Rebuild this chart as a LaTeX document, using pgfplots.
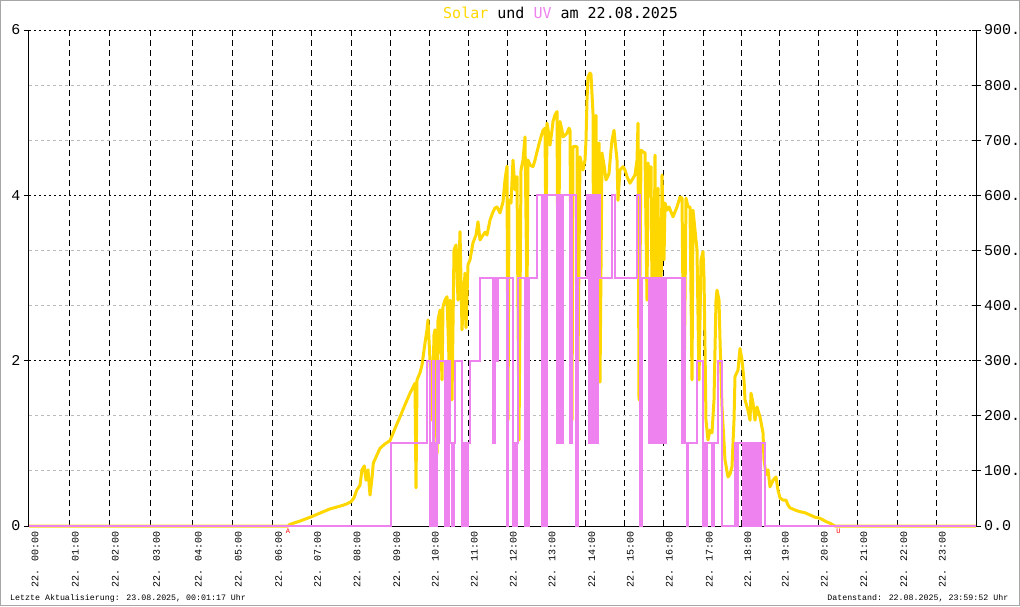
\documentclass[border=0pt]{standalone}
\usepackage{fontspec}
\setmainfont{Liberation Mono}
\newfontfamily\titlefont{DejaVu Sans Mono}
\usepackage{pgfplots}
\pgfplotsset{compat=1.18}
\usepackage{pgfplotstable}
\definecolor{solar}{HTML}{FFD700}
\definecolor{uvc}{HTML}{EE82EE}
\definecolor{gridgray}{HTML}{BBBBBB}

% x = position on the time axis (chart units), w = solar radiation in W/m^2
\pgfplotstableread{
x w
29 0
288 0
290 3
300 9
311.7 17
322 25
330 31
340 36
346.7 40
351 44
354 51
356.7 65
360 74
362 102
364.3 109
366 83
368 102
370 56
372 87
373.3 114
376 125
380 141
385 149
390 155
395 177
400 198
405 220
410 241
413 252
415 259
416 69
417 265
420 278
422 292
425 332
427 356
428 374
430 301
432 192
434 347
435 356
437 132
438 374
440 392
442 265
443 398
445 410
447 416
449 301
450 410
452 229
454 501
456 510
458 410
460 534
462 356
464 428
465 459
466 360
468 474
470 483
473 514
476 528
478 552
480 519
482 525
485 533
487 528
490 555
493 570
495 577
497 579
500 568
503 588
505 628
507 653
508 192
509 591
511 586
513 664
515 610
517 634
519 156
521 646
523 664
525 706
527 410
528 664
530 655
533 652
535 664
537 679
540 700
543 718
545 722
546 501
547 731
549 709
550 691
552 718
553 734
555 746
557 752
558 410
560 734
562 718
563 706
565 709
567 713
569 722
570 718
572 192
573 688
575 689
577 688
578 300
580 670
583 646
585 664
586 700
587 773
588 815
590 822
591 819
593 749
594 229
596 745
597 265
599 695
600 261
602 677
604 655
606 628
608 635
609 640
611 682
612 700
614 718
615 700
617 664
618 591
620 646
623 652
625 646
627 634
630 622
633 631
635 637
637 664
638 731
639 229
641 682
643 679
645 677
647 410
648 659
650 628
651 652
653 192
655 673
656 210
658 613
660 174
662 637
664 483
665 586
667 573
669 579
671 570
673 561
675 570
677 579
679 591
680 597
682 595
684 229
686 595
688 579
690 579
692 265
693 573
695 537
697 501
699 265
701 483
703 498
704 452
706 192
708 156
710 174
712 169
714 229
716 410
717 428
719 410
720 338
722 216
725 120
728 89
730 94
732 108
734 192
735 271
738 283
740 322
742 301
744 265
745 229
748 210
750 192
751 241
753 223
755 192
757 216
760 198
763 169
764 120
766 93
768 102
770 71
773 83
776 89
778 65
780 51
783 47
786 47
788 38
790 33
795 29
800 26
805 24
810 20
815 16
820 14
826 8
830 5
835 0
976 0
}\solardata

% UV index, step values holding from x until the next x
\pgfplotstableread{
x uv
29 0
391 1
427 2
430 0
431 1
432 0
433 2
434 0
435 1
436 0
437 2
438 1
439 2
445 0
446 2
448 0
449 2
450 1
452 0
454 1
455 2
462 0
464 1
466 0
468 1
470 2
480 3
493 1
495 3
497 2
498 3
507 0
508 3
513 0
514 1
515 0
517 1
518 3
525 0
526 3
527 0
529 3
537 4
542 0
544 4
546 0
547 4
557 1
559 4
561 1
563 4
570 1
572 4
576 0
578 3
587 4
589 1
591 4
593 1
595 4
597 1
598 4
600 3
612 4
615 3
637 4
640 0
642 3
649 1
651 3
652 1
654 3
656 1
658 3
660 1
662 3
664 1
666 3
682 1
684 3
685 1
687 0
688 1
697 2
703 0
704 1
706 0
707 1
712 0
714 1
718 2
722 0
735 1
737 0
738 1
743 0
744 1
745 0
746 1
748 0
749 1
751 0
752 1
754 0
755 1
757 0
758 1
760 0
761 1
765 0
976 0
}\uvdata

\pgfplotsset{
  base/.style={
    at={(29pt,80pt)}, anchor=south west,
    scale only axis, width=947pt, height=496pt,
    xmin=29, xmax=976,
    axis line style={-, black, line width=1pt},
    /pgf/number format/assume math mode=true,
  }
}

\begin{document}
\begin{tikzpicture}[x=1pt,y=1pt]
\useasboundingbox (0,0) rectangle (1020,606);
\draw[gray!70, line width=1pt] (0.5,0.5) rectangle (1019.5,605.5);

% Axis 1: left UV scale, grid
\begin{axis}[base,
  ymin=0, ymax=6,
  axis x line*=bottom, axis y line*=left,
  xtick={29,69.3,109.3,150.7,192.3,232.3,272.7,311.7,351,390.7,429.3,468.3,507.3,546,585.7,624.3,663.3,703.3,741.7,779.3,818.3,857.7,897.7,936.3},
  xticklabels={22. 00:00,22. 01:00,22. 02:00,22. 03:00,22. 04:00,22. 05:00,22. 06:00,22. 07:00,22. 08:00,22. 09:00,22. 10:00,22. 11:00,22. 12:00,22. 13:00,22. 14:00,22. 15:00,22. 16:00,22. 17:00,22. 18:00,22. 19:00,22. 20:00,22. 21:00,22. 22:00,22. 23:00},
  xticklabel style={rotate=90, anchor=east, font=\fontsize{10}{12}\selectfont, inner sep=0pt, yshift=-6pt},
  x tick style={draw=none},
  ytick={0,2,4,6},
  yticklabels={0,2,4,6},
  yticklabel style={font=\fontsize{15}{17}\selectfont},
  y tick style={black, line width=1pt},
  tick align=outside, major tick length=5pt,
  minor ytick={0.66667,1.33333,2.66667,3.33333,4.66667,5.33333},
  minor tick length=0pt,
  xmajorgrids, ymajorgrids, yminorgrids,
  major x grid style={black, line width=1pt, dash pattern=on 6pt off 4pt},
  major y grid style={black, line width=1pt, dash pattern=on 2pt off 3pt},
  minor y grid style={gridgray, line width=1pt, dash pattern=on 3pt off 3pt},
]
\end{axis}

% Axis 2: right solar scale, solar curve
\begin{axis}[base,
  ymin=0, ymax=900,
  axis x line=none, axis y line*=right,
  ytick={0,100,...,900},
  yticklabel style={font=\fontsize{15}{17}\selectfont, /pgf/number format/fixed, /pgf/number format/fixed zerofill, /pgf/number format/precision=1, /pgf/number format/1000 sep={}},
  y tick style={black, line width=1pt},
  tick align=center, major tick length=9pt,
  clip=false,
]
\addplot[solar, line width=3pt, line join=round, mark=none] table[x=x, y=w] {\solardata};
\end{axis}

% Axis 3: UV curve on left scale
\begin{axis}[base,
  ymin=0, ymax=6, hide axis, clip=false,
]
\addplot[uvc, line width=2pt, const plot, mark=none] table[x=x, y=uv] {\uvdata};
\end{axis}

\node[anchor=base west, inner sep=0pt, font=\titlefont\fontsize{15}{18}\selectfont] at (443,587.7) {\textcolor{solar}{Solar} und \textcolor{uvc}{UV} am 22.08.2025};
\node[anchor=base west, inner sep=0pt, font=\fontsize{8.3}{10}\selectfont] at (10,5.3) {Letzte Aktualisierung: 23.08.2025, 00:01:17 Uhr};
\node[anchor=base east, inner sep=0pt, font=\fontsize{8.3}{10}\selectfont] at (1008.5,5.3) {Datenstand: 22.08.2025, 23:59:52 Uhr};
\node[red, inner sep=0pt, font=\fontsize{7}{8}\selectfont] at (288,74.5) {A};
\node[red, inner sep=0pt, font=\fontsize{7}{8}\selectfont] at (838.5,74.5) {U};
\end{tikzpicture}
\end{document}
